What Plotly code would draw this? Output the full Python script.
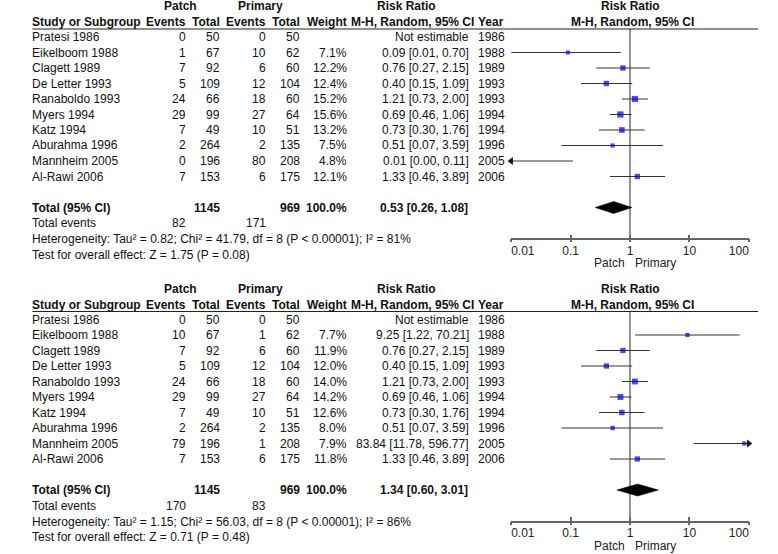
import plotly.graph_objects as go

W, H = 778, 554
FONT = "Liberation Sans, Arial, sans-serif"
TXT = "#111111"

# ---------------- data ----------------
studies = ["Pratesi 1986", "Eikelboom 1988", "Clagett 1989", "De Letter 1993",
           "Ranaboldo 1993", "Myers 1994", "Katz 1994", "Aburahma 1996",
           "Mannheim 2005", "Al-Rawi 2006"]
years = [1986, 1988, 1989, 1993, 1993, 1994, 1994, 1996, 2005, 2006]
patch_total = [50, 67, 92, 109, 66, 99, 49, 264, 196, 153]
primary_total = [50, 62, 60, 104, 60, 64, 51, 135, 208, 175]

# panel A
patch_events_a = [0, 1, 7, 5, 24, 29, 7, 2, 0, 7]
primary_events_a = [0, 10, 6, 12, 18, 27, 10, 2, 80, 6]
weight_a = [None, 7.1, 12.2, 12.4, 15.2, 15.6, 13.2, 7.5, 4.8, 12.1]
rr_a = [None, 0.09, 0.76, 0.40, 1.21, 0.69, 0.73, 0.51, 0.01, 1.33]
lo_a = [None, 0.01, 0.27, 0.15, 0.73, 0.46, 0.30, 0.07, 0.00, 0.46]
hi_a = [None, 0.70, 2.15, 1.09, 2.00, 1.06, 1.76, 3.59, 0.11, 3.89]
pooled_a = [0.53, 0.26, 1.08]
total_events_a = [82, 171]
het_a = "Heterogeneity: Tau² = 0.82; Chi² = 41.79, df = 8 (P &lt; 0.00001); I² = 81%"
test_a = "Test for overall effect: Z = 1.75 (P = 0.08)"

# panel B
patch_events_b = [0, 10, 7, 5, 24, 29, 7, 2, 79, 7]
primary_events_b = [0, 1, 6, 12, 18, 27, 10, 2, 1, 6]
weight_b = [None, 7.7, 11.9, 12.0, 14.0, 14.2, 12.6, 8.0, 7.9, 11.8]
rr_b = [None, 9.25, 0.76, 0.40, 1.21, 0.69, 0.73, 0.51, 83.84, 1.33]
lo_b = [None, 1.22, 0.27, 0.15, 0.73, 0.46, 0.30, 0.07, 11.78, 0.46]
hi_b = [None, 70.21, 2.15, 1.09, 2.00, 1.06, 1.76, 3.59, 596.77, 3.89]
pooled_b = [1.34, 0.60, 3.01]
total_events_b = [170, 83]
het_b = "Heterogeneity: Tau² = 1.15; Chi² = 56.03, df = 8 (P &lt; 0.00001); I² = 86%"
test_b = "Test for overall effect: Z = 0.71 (P = 0.48)"

tick_vals = [0.01, 0.1, 1, 10, 100]
tick_labels = ["0.01", "0.1", "1", "10", "100"]
XMIN, XMAX = 0.01, 100

NB = "\u00a0"
# end labels sit inside the axis (left-aligned / right-aligned at their ticks)
tick_text = [NB * 7 + tick_labels[0]] + tick_labels[1:4] + [tick_labels[4] + NB * 6]

# ---------------- layout geometry (pixels) ----------------
PANEL_OFF = [0.0, 282.5]
FIRST_ROW = 37.0
ROW_STEP = 15.5
HDR1, HDR2, HDR_LINE = 6.0, 22.0, 29.0
AXIS_LINE = 238.3
X_LEFT, X_RIGHT = 516.7, 768.3
TOTAL_ROW = 11

def px(x):
    return x / W

def py(y):
    return 1 - y / H

def row_px(panel, r):
    return PANEL_OFF[panel] + FIRST_ROW + ROW_STEP * r

R_TOP = (HDR_LINE - FIRST_ROW) / ROW_STEP
R_BOT = (AXIS_LINE - FIRST_ROW) / ROW_STEP

COL = dict(study=10, pe=172.5, pt=208, qe=257, qt=293, w=343, ci=472.5, year=482)

annotations = []
shapes = []

def txt(x, y, s, anchor="left", bold=False, size=12, color=TXT):
    annotations.append(dict(
        x=px(x), y=py(y), xref="paper", yref="paper",
        text=("<b>%s</b>" % s) if bold else s, showarrow=False,
        xanchor=anchor, yanchor="middle", borderpad=0, borderwidth=0,
        font=dict(family=FONT, size=size, color=color)))

fig = go.Figure()

panels = [
    dict(pe=patch_events_a, qe=primary_events_a, w=weight_a, rr=rr_a, lo=lo_a, hi=hi_a,
         pooled=pooled_a, te=total_events_a, het=het_a, test=test_a),
    dict(pe=patch_events_b, qe=primary_events_b, w=weight_b, rr=rr_b, lo=lo_b, hi=hi_b,
         pooled=pooled_b, te=total_events_b, het=het_b, test=test_b),
]

for p, d in enumerate(panels):
    xa = "x" if p == 0 else "x2"
    ya = "y" if p == 0 else "y2"
    off = PANEL_OFF[p]

    # headers
    txt(167, off + HDR1, "Patch", "center", True)
    txt(251, off + HDR1, "Primary", "center", True)
    txt(406, off + HDR1, "Risk Ratio", "center", True)
    txt(643, off + HDR1, "Risk Ratio", "center", True)
    txt(COL["study"], off + HDR2, "Study or Subgroup", "left", True)
    txt(COL["pe"] + 0.5, off + HDR2, "Events", "right", True)
    txt(COL["pt"], off + HDR2, "Total", "right", True)
    txt(COL["qe"], off + HDR2, "Events", "right", True)
    txt(COL["qt"], off + HDR2, "Total", "right", True)
    txt(COL["w"], off + HDR2, "Weight", "right", True)
    txt(477, off + HDR2, "M-H, Random, 95% CI", "right", True)
    txt(COL["year"], off + HDR2, "Year", "left", True)
    txt(645, off + HDR2, "M-H, Random, 95% CI", "center", True)
    shapes.append(dict(type="line", xref="paper", yref="paper",
                       x0=px(10), x1=1, y0=py(off + HDR_LINE), y1=py(off + HDR_LINE),
                       line=dict(color="#222222", width=1.2)))

    # study rows
    for i, name in enumerate(studies):
        y = row_px(p, i)
        txt(COL["study"], y, name)
        txt(COL["pe"], y, str(d["pe"][i]), "right")
        txt(COL["pt"], y, str(patch_total[i]), "right")
        txt(COL["qe"], y, str(d["qe"][i]), "right")
        txt(COL["qt"], y, str(primary_total[i]), "right")
        if d["w"][i] is None:
            txt(COL["ci"], y, "Not estimable", "right")
        else:
            txt(COL["w"], y, "%.1f%%" % d["w"][i], "right")
            txt(COL["ci"], y, "%.2f [%.2f, %.2f]" % (d["rr"][i], d["lo"][i], d["hi"][i]), "right")
        txt(COL["year"], y, str(years[i]))

    # totals
    yt = row_px(p, TOTAL_ROW)
    txt(COL["study"], yt, "Total (95% CI)", "left", True)
    txt(COL["pt"], yt, str(sum(patch_total)), "right", True)
    txt(COL["qt"], yt, str(sum(primary_total)), "right", True)
    txt(COL["w"], yt, "100.0%", "right", True)
    txt(COL["ci"] - 1.5, yt, "%.2f [%.2f, %.2f]" % tuple(d["pooled"]), "right", True)
    txt(COL["study"], yt + 16, "Total events")
    txt(COL["pe"], yt + 16, str(d["te"][0]), "right")
    txt(COL["qe"], yt + 16, str(d["te"][1]), "right")
    txt(COL["study"], yt + 31.5, d["het"])
    txt(COL["study"], yt + 47, d["test"])

    # axis captions
    txt(637, off + AXIS_LINE + 25, "Patch", "right", color="#222222")
    txt(648, off + AXIS_LINE + 25, "Primary", "left", color="#222222")

    # reference line at RR = 1
    shapes.append(dict(type="line", xref=xa, yref=ya + " domain", x0=1, x1=1, y0=0, y1=1,
                       line=dict(color="#777777", width=1.6), layer="below"))

    # CI lines, squares, arrows
    cx, cy = [], []
    ax_l, ay_l, ax_r, ay_r = [], [], [], []
    sx, sy, ss = [], [], []
    for i in range(len(studies)):
        if d["rr"][i] is None:
            continue
        lo = max(d["lo"][i], XMIN)
        hi = min(d["hi"][i], XMAX)
        cx += [lo, hi, None]
        cy += [i, i, None]
        if d["lo"][i] < XMIN:
            ax_l.append(XMIN); ay_l.append(i)
        if d["hi"][i] > XMAX:
            ax_r.append(XMAX); ay_r.append(i)
        sx.append(d["rr"][i]); sy.append(i); ss.append(2.2 + 0.26 * d["w"][i])
    fig.add_trace(go.Scatter(x=cx, y=cy, mode="lines", line=dict(color="#333333", width=1),
                             xaxis=xa, yaxis=ya, hoverinfo="skip", showlegend=False))
    fig.add_trace(go.Scatter(x=sx, y=sy, mode="markers",
                             marker=dict(symbol="square", size=ss, color="#0000DD", line=dict(width=0)),
                             xaxis=xa, yaxis=ya, showlegend=False, cliponaxis=False))
    if ax_l:
        fig.add_trace(go.Scatter(x=ax_l, y=ay_l, mode="markers",
                                 marker=dict(symbol="triangle-left", size=7, color="#111111", line=dict(width=0)),
                                 xaxis=xa, yaxis=ya, showlegend=False, cliponaxis=False))
    if ax_r:
        fig.add_trace(go.Scatter(x=ax_r, y=ay_r, mode="markers",
                                 marker=dict(symbol="triangle-right", size=7, color="#111111", line=dict(width=0)),
                                 xaxis=xa, yaxis=ya, showlegend=False, cliponaxis=False))
    # pooled diamond
    rr0, lo0, hi0 = d["pooled"]
    fig.add_trace(go.Scatter(x=[lo0, rr0, hi0, rr0, lo0],
                             y=[TOTAL_ROW, TOTAL_ROW - 0.39, TOTAL_ROW, TOTAL_ROW + 0.39, TOTAL_ROW],
                             mode="lines", fill="toself", fillcolor="#000000",
                             line=dict(color="#000000", width=0.5),
                             xaxis=xa, yaxis=ya, showlegend=False, hoverinfo="skip"))

# empty traces for the overlay tick axes (lower half of each tick)
fig.add_trace(go.Scatter(x=[], y=[], xaxis="x3", yaxis="y", showlegend=False))
fig.add_trace(go.Scatter(x=[], y=[], xaxis="x4", yaxis="y2", showlegend=False))

def ydom(p):
    off = PANEL_OFF[p]
    return [py(off + AXIS_LINE), py(off + HDR_LINE)]

xdom = [px(X_LEFT), px(X_RIGHT)]
base_x = dict(type="log", range=[-2, 2], domain=xdom, showgrid=False, zeroline=False,
              showline=True, linecolor="#666666", linewidth=1.6,
              ticks="inside", ticklen=4, tickwidth=1.6, tickcolor="#666666",
              tickvals=tick_vals, ticktext=tick_text, ticklabeloverflow="allow",
              tickfont=dict(family=FONT, size=12, color="#222222"))
over_x = dict(type="log", range=[-2, 2], showgrid=False, zeroline=False, showline=False,
              ticks="outside", ticklen=3, tickwidth=1.6, tickcolor="#666666",
              tickvals=tick_vals, showticklabels=False)
base_y = dict(range=[R_BOT, R_TOP], visible=False, showgrid=False, zeroline=False)

fig.update_layout(
    width=W, height=H, margin=dict(l=0, r=0, t=0, b=0),
    paper_bgcolor="white", plot_bgcolor="white",
    showlegend=False,
    xaxis=dict(base_x, anchor="y"),
    xaxis2=dict(base_x, anchor="y2"),
    xaxis3=dict(over_x, overlaying="x", anchor="y"),
    xaxis4=dict(over_x, overlaying="x2", anchor="y2"),
    yaxis=dict(base_y, domain=ydom(0), anchor="x"),
    yaxis2=dict(base_y, domain=ydom(1), anchor="x2"),
    annotations=annotations, shapes=shapes,
)

# remove the browser's default 8 px body margin so the figure fills the window
fig.write_html("out.html", config={"displayModeBar": False},
               post_script="document.body.style.margin='0';document.body.style.overflow='hidden';")
